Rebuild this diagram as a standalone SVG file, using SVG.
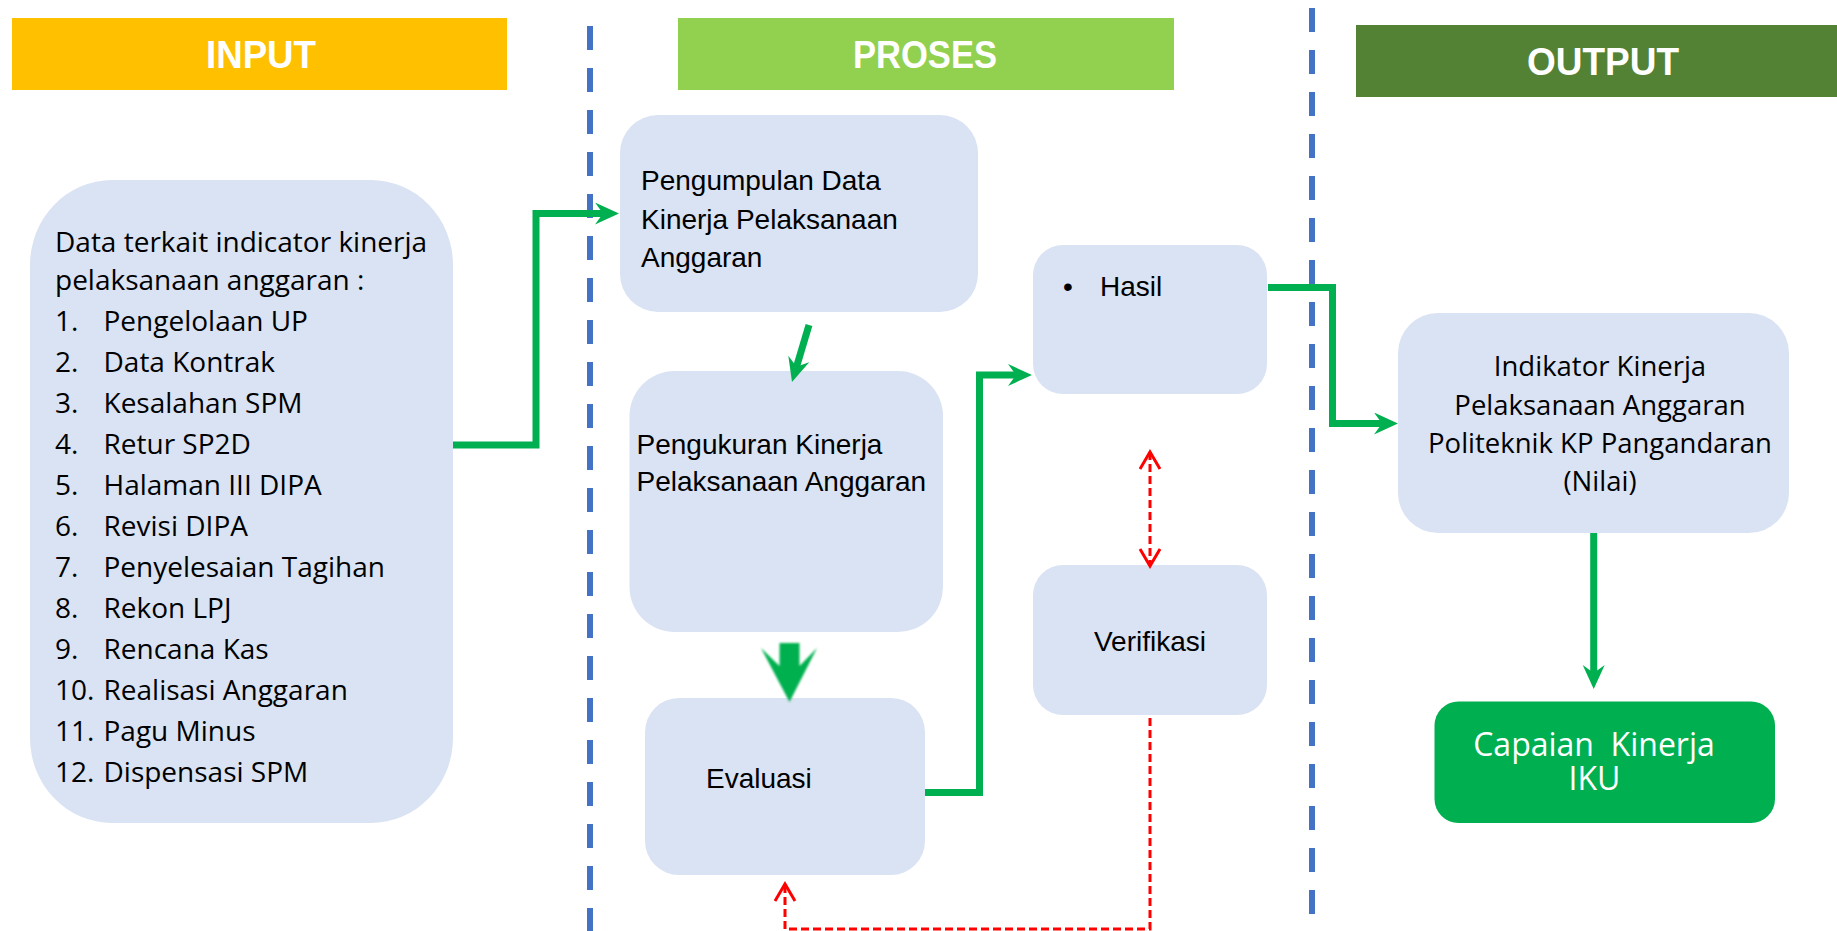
<svg xmlns="http://www.w3.org/2000/svg" width="1837" height="931" viewBox="0 0 1837 931">
<style>
.hdr{font-family:"Liberation Sans",Arial,sans-serif;font-weight:bold;font-size:39px;fill:#FFFFFF;text-anchor:middle}
.box{fill:#DAE3F3}
.os{font-family:"Open Sans","Liberation Sans",sans-serif;font-size:28px;fill:#000000}
.ls{font-family:"Liberation Sans",Arial,sans-serif;font-size:28px;fill:#000000}
.ind{font-family:"Open Sans","Liberation Sans",sans-serif;font-size:27.5px;fill:#000000;text-anchor:middle}
.cap{font-family:"Open Sans","Liberation Sans",sans-serif;font-size:32px;fill:#FFFFFF;text-anchor:middle}
.g{fill:none;stroke:#00B050;stroke-width:7}
.r{fill:none;stroke:#FF0000;stroke-width:3;stroke-dasharray:8 4}
.div{stroke:#4472C4;stroke-width:6;stroke-dasharray:24 18}
</style>
<defs>
<marker id="ga" markerUnits="userSpaceOnUse" markerWidth="26" markerHeight="24" refX="10" refY="11" orient="auto">
<path d="M0,0 L24,11 L0,22 L8,11 Z" fill="#00B050"/>
</marker>
<marker id="ra" markerUnits="userSpaceOnUse" markerWidth="22" markerHeight="24" refX="18" refY="11" orient="auto-start-reverse">
<path d="M1,1 L18,11 L1,21" fill="none" stroke="#FF0000" stroke-width="3"/>
</marker>
<filter id="soft" x="-20%" y="-20%" width="140%" height="140%">
<feGaussianBlur stdDeviation="1.2"/>
</filter>
</defs>

<g id="headers">
<g id="h-input"><rect x="12" y="18" width="495" height="72" fill="#FFC000"/><text class="hdr" x="261" y="68" textLength="110" lengthAdjust="spacingAndGlyphs">INPUT</text></g>
<g id="h-proses"><rect x="678" y="18" width="496" height="72" fill="#92D050"/><text class="hdr" x="925" y="68" textLength="144" lengthAdjust="spacingAndGlyphs">PROSES</text></g>
<g id="h-output"><rect x="1356" y="25" width="481" height="72" fill="#548235"/><text class="hdr" x="1603" y="75" textLength="152" lengthAdjust="spacingAndGlyphs">OUTPUT</text></g>
</g>

<g id="dividers">
<line class="div" x1="590" y1="26" x2="590" y2="931"/>
<line class="div" x1="1312" y1="8" x2="1312" y2="931"/>
</g>

<g id="input-box">
<rect class="box" x="30" y="180" width="423" height="643" rx="82" ry="85"/>
<text class="os" x="55" y="252">Data terkait indicator kinerja</text>
<text class="os" x="55" y="290">pelaksanaan anggaran :</text>
<text class="os" x="55" y="331">1.</text><text class="os" x="103.5" y="331">Pengelolaan UP</text>
<text class="os" x="55" y="372">2.</text><text class="os" x="103.5" y="372">Data Kontrak</text>
<text class="os" x="55" y="413">3.</text><text class="os" x="103.5" y="413">Kesalahan SPM</text>
<text class="os" x="55" y="454">4.</text><text class="os" x="103.5" y="454">Retur SP2D</text>
<text class="os" x="55" y="495">5.</text><text class="os" x="103.5" y="495">Halaman III DIPA</text>
<text class="os" x="55" y="536">6.</text><text class="os" x="103.5" y="536">Revisi DIPA</text>
<text class="os" x="55" y="577">7.</text><text class="os" x="103.5" y="577">Penyelesaian Tagihan</text>
<text class="os" x="55" y="618">8.</text><text class="os" x="103.5" y="618">Rekon LPJ</text>
<text class="os" x="55" y="659">9.</text><text class="os" x="103.5" y="659">Rencana Kas</text>
<text class="os" x="55" y="700">10.</text><text class="os" x="103.5" y="700">Realisasi Anggaran</text>
<text class="os" x="55" y="741">11.</text><text class="os" x="103.5" y="741">Pagu Minus</text>
<text class="os" x="55" y="782">12.</text><text class="os" x="103.5" y="782">Dispensasi SPM</text>
</g>

<g id="pengumpulan">
<rect class="box" x="620" y="115" width="358" height="197" rx="38"/>
<text class="ls" x="641" y="190">Pengumpulan Data</text>
<text class="ls" x="641" y="228.5">Kinerja Pelaksanaan</text>
<text class="ls" x="641" y="266.5">Anggaran</text>
</g>

<g id="pengukuran">
<rect class="box" x="629.5" y="371" width="313.5" height="261" rx="45"/>
<text class="ls" x="636.5" y="453.5">Pengukuran Kinerja</text>
<text class="ls" x="636.5" y="491">Pelaksanaan Anggaran</text>
</g>

<g id="evaluasi">
<rect class="box" x="645" y="698" width="280" height="177" rx="34"/>
<text class="ls" x="706" y="787.5">Evaluasi</text>
</g>

<g id="hasil">
<rect class="box" x="1033" y="245" width="234" height="149" rx="30"/>
<text class="ls" x="1063" y="296">•</text>
<text class="ls" x="1100" y="296">Hasil</text>
</g>

<g id="verifikasi">
<rect class="box" x="1033" y="565" width="234" height="150" rx="30"/>
<text class="ls" x="1150" y="651" text-anchor="middle">Verifikasi</text>
</g>

<g id="indikator">
<rect class="box" x="1398" y="313" width="391" height="220" rx="40"/>
<text class="ind" x="1600" y="376">Indikator Kinerja</text>
<text class="ind" x="1600" y="414.5">Pelaksanaan Anggaran</text>
<text class="ind" x="1600" y="452.8">Politeknik KP Pangandaran</text>
<text class="ind" x="1600" y="491">(Nilai)</text>
</g>

<g id="capaian">
<rect x="1434.5" y="701.5" width="340.5" height="121.5" rx="24" fill="#00B050"/>
<text class="cap" xml:space="preserve"><tspan x="1594" y="756">Capaian  Kinerja</tspan><tspan x="1594.5" y="790">IKU</tspan></text>
</g>

<g id="connectors">
<path class="g" d="M453 445 H536 V213.5 H605" marker-end="url(#ga)"/>
<path class="g" d="M809 325 L796 368.6" marker-end="url(#ga)"/>
<path d="M779.5 643 H799.5 V666 L817 648 L789.5 702 L761 648 L779.5 666 Z" fill="#00B050" filter="url(#soft)"/>
<path class="g" d="M925 792.5 H979.5 V375 H1018" marker-end="url(#ga)"/>
<path class="g" d="M1268 287.5 H1332.5 V423.5 H1384" marker-end="url(#ga)"/>
<path class="g" d="M1593.7 533 V675" marker-end="url(#ga)"/>
<path class="r" d="M1150 452 V566" marker-start="url(#ra)" marker-end="url(#ra)"/>
<path class="r" d="M1150 718 V929 H785 V884" marker-end="url(#ra)"/>
</g>
</svg>
